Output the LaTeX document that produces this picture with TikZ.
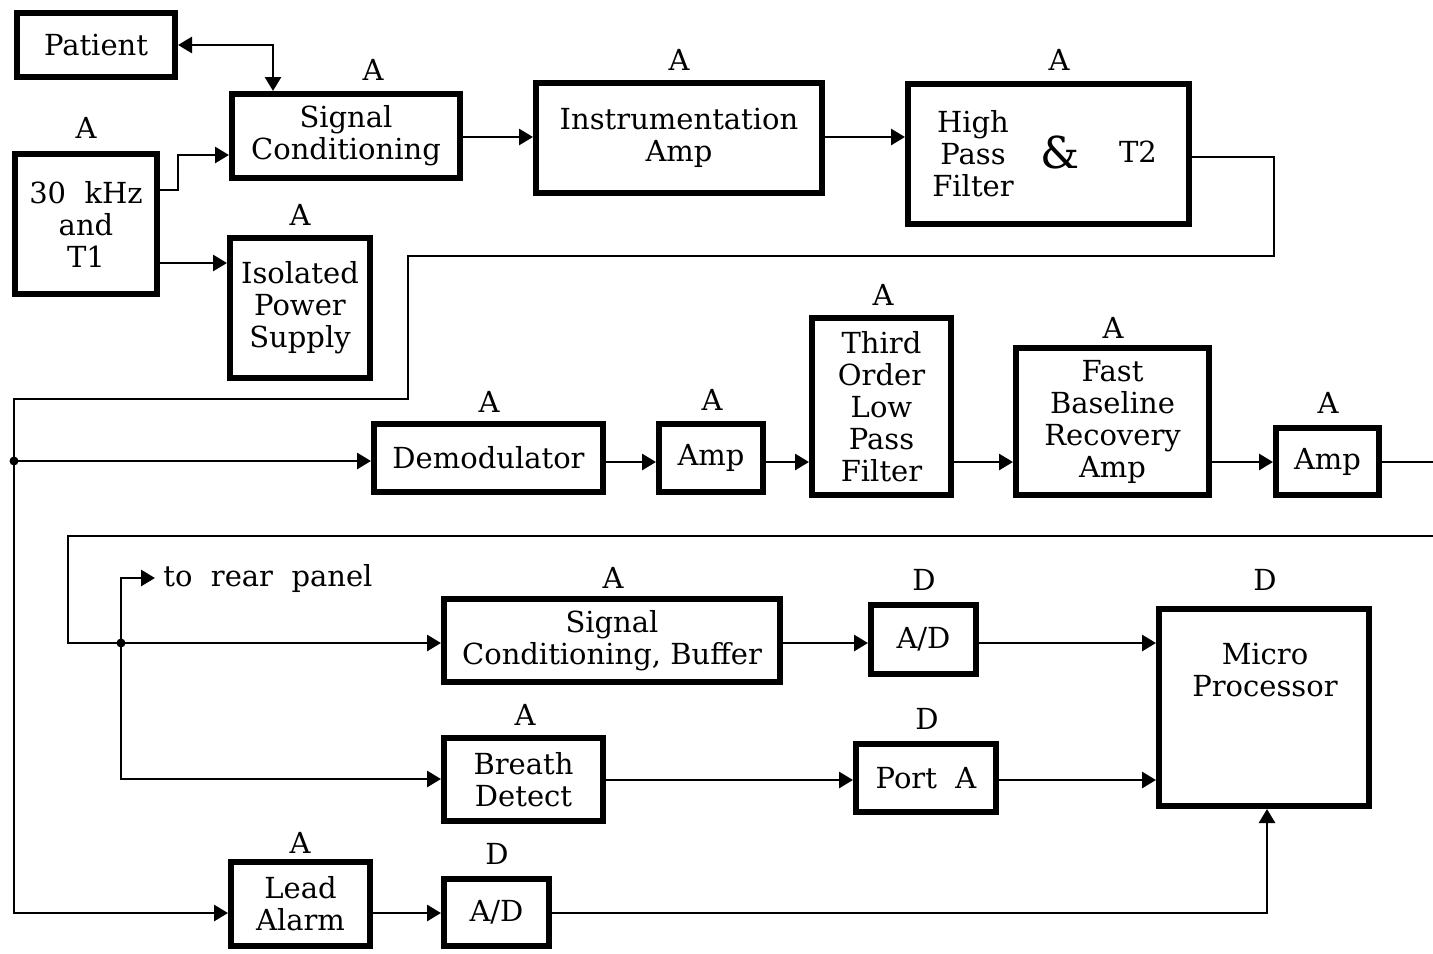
\documentclass[tikz,border=0pt]{standalone}
\usepackage{fontspec}
\setmainfont{DejaVu Serif}
\usetikzlibrary{arrows.meta,calc}
\newcommand{\dfont}{\fontsize{14.5}{16}\selectfont}
\begin{document}
\begin{tikzpicture}[x=0.5pt,y=-0.5pt,
 box/.style={draw, line width=3pt, inner sep=0pt, align=center, font=\dfont},
 lbl/.style={inner sep=0pt, font=\dfont, align=center},
 wire/.style={line width=1.4pt},
 arr/.style={wire, -{Triangle[length=7pt,width=8pt]}},
 darr/.style={wire, {Triangle[length=7pt,width=8pt]}-{Triangle[length=7pt,width=8pt]}},
 jdot/.style={circle, fill, inner sep=0pt, minimum size=4.5pt}]
\fill[white] (0,0) rectangle (1433,953);
\useasboundingbox (0,0) rectangle (1433,953);

% boxes
\node[box, minimum width=79pt, minimum height=32pt] (pat) at (96,45) {Patient};
\node[box, minimum width=114pt, minimum height=42pt] (sc) at (346,136) {Signal\\Conditioning};
\node[box, minimum width=143pt, minimum height=55pt] (instr) at (679,138) {Instrumentation\\Amp};
\node[box, minimum width=140.5pt, minimum height=70pt] (hpf) at (1048.5,154) {};
\node[box, minimum width=71pt, minimum height=70pt] (osc) at (86,224) {30\ \ kHz\\and\\T1};
\node[box, minimum width=70pt, minimum height=70pt] (iso) at (300,308) {Isolated\\Power\\Supply};
\node[box, minimum width=114.5pt, minimum height=34pt] (demod) at (488.5,458) {Demodulator};
\node[box, minimum width=52pt, minimum height=34pt] (amp1) at (711,458) {Amp};
\node[box, minimum width=69.5pt, minimum height=88.5pt] (tolpf) at (881.5,406.5) {Third\\Order\\Low\\Pass\\Filter};
\node[box, minimum width=96.5pt, minimum height=73.5pt] (fbra) at (1112.5,421.5) {Fast\\Baseline\\Recovery\\Amp};
\node[box, minimum width=51.5pt, minimum height=33.5pt] (amp2) at (1327.5,461.5) {Amp};
\node[box, minimum width=168pt, minimum height=41.5pt] (scb) at (612,640.5) {Signal\\Conditioning, Buffer};
\node[box, minimum width=52.5pt, minimum height=34.5pt] (ad1) at (923.5,639.5) {A/D};
\node[box, minimum width=105pt, minimum height=98.5pt] (micro) at (1264,707.5) {};
\node[box, minimum width=79.5pt, minimum height=41.5pt] (breath) at (523.5,779.5) {Breath\\Detect};
\node[box, minimum width=70pt, minimum height=34pt] (porta) at (926,778) {Port\ \ A};
\node[box, minimum width=69.5pt, minimum height=42pt] (lead) at (300.5,904) {Lead\\Alarm};
\node[box, minimum width=52.5pt, minimum height=33.5pt] (ad2) at (496.5,912.5) {A/D};

% texts inside boxes
\node[lbl] (hpft) at (973,154) {High\\Pass\\Filter};
\node[lbl, font=\fontsize{22}{24}\selectfont] (amp) at (1060,152) {\&};
\node[lbl] (t2) at (1138,152) {T2};
\node[lbl] (microt) at (1265,670) {Micro\\Processor};
\node[lbl, anchor=west] (rear) at (163,578) {to\ \ rear\ \ panel};

% type labels
\node[lbl] (lsc) at (373,70) {A};
\node[lbl] (linstr) at (679,60) {A};
\node[lbl] (lhpf) at (1059,60) {A};
\node[lbl] (losc) at (86,128) {A};
\node[lbl] (liso) at (300,215) {A};
\node[lbl] (ldemod) at (489,402) {A};
\node[lbl] (lamp1) at (712,400) {A};
\node[lbl] (ltolpf) at (883,295) {A};
\node[lbl] (lfbra) at (1113,328) {A};
\node[lbl] (lamp2) at (1328,403) {A};
\node[lbl] (lscb) at (613,578) {A};
\node[lbl] (lad1) at (924,580) {D};
\node[lbl] (lmicro) at (1265,580) {D};
\node[lbl] (lbreath) at (525,715) {A};
\node[lbl] (lporta) at (927,719) {D};
\node[lbl] (llead) at (300,843) {A};
\node[lbl] (lad2) at (497,854) {D};

% junctions
\coordinate (j1) at (14,461);
\coordinate (j2) at (121,643);
\coordinate (rearend) at (155,578);
\coordinate (out1) at (1433,462);
\node[jdot] (d1) at (j1) {};
\node[jdot] (d2) at (j2) {};

% connectors
\draw[darr] (pat.east) -| (sc.north -| 273,0);
\draw[arr] (osc.east |- 0,190) -| (178,155) -- (sc.west |- 0,155);
\draw[arr] (osc.east |- 0,263) -- (iso.west |- 0,263);
\draw[arr] (sc.east |- 0,137) -- (instr.west |- 0,137);
\draw[arr] (instr.east |- 0,137) -- (hpf.west |- 0,137);
\draw[arr] (hpf.east |- 0,157) -| (1274,256) -| (408,399) -| (14,913) -- (lead.west |- 0,913);
\draw[arr] (j1) -- (demod.west |- j1);
\draw[arr] (demod.east |- 0,462) -- (amp1.west |- 0,462);
\draw[arr] (amp1.east |- 0,462) -- (tolpf.west |- 0,462);
\draw[arr] (tolpf.east |- 0,462) -- (fbra.west |- 0,462);
\draw[arr] (fbra.east |- 0,462) -- (amp2.west |- 0,462);
\draw[wire] (amp2.east |- 0,462) -- (out1);
\draw[arr] (1433,536) -- (68,536) |- (scb.west |- j2);
\draw[arr] (j2) |- (rearend);
\draw[arr] (j2) |- (breath.west |- 0,779);
\draw[arr] (scb.east |- 0,643) -- (ad1.west |- 0,643);
\draw[arr] (ad1.east |- 0,643) -- (micro.west |- 0,643);
\draw[arr] (breath.east |- 0,780) -- (porta.west |- 0,780);
\draw[arr] (porta.east |- 0,780) -- (micro.west |- 0,780);
\draw[arr] (lead.east |- 0,913) -- (ad2.west |- 0,913);
\draw[arr] (ad2.east |- 0,913) -| (micro.south -| 1267,0);
\end{tikzpicture}
\end{document}
